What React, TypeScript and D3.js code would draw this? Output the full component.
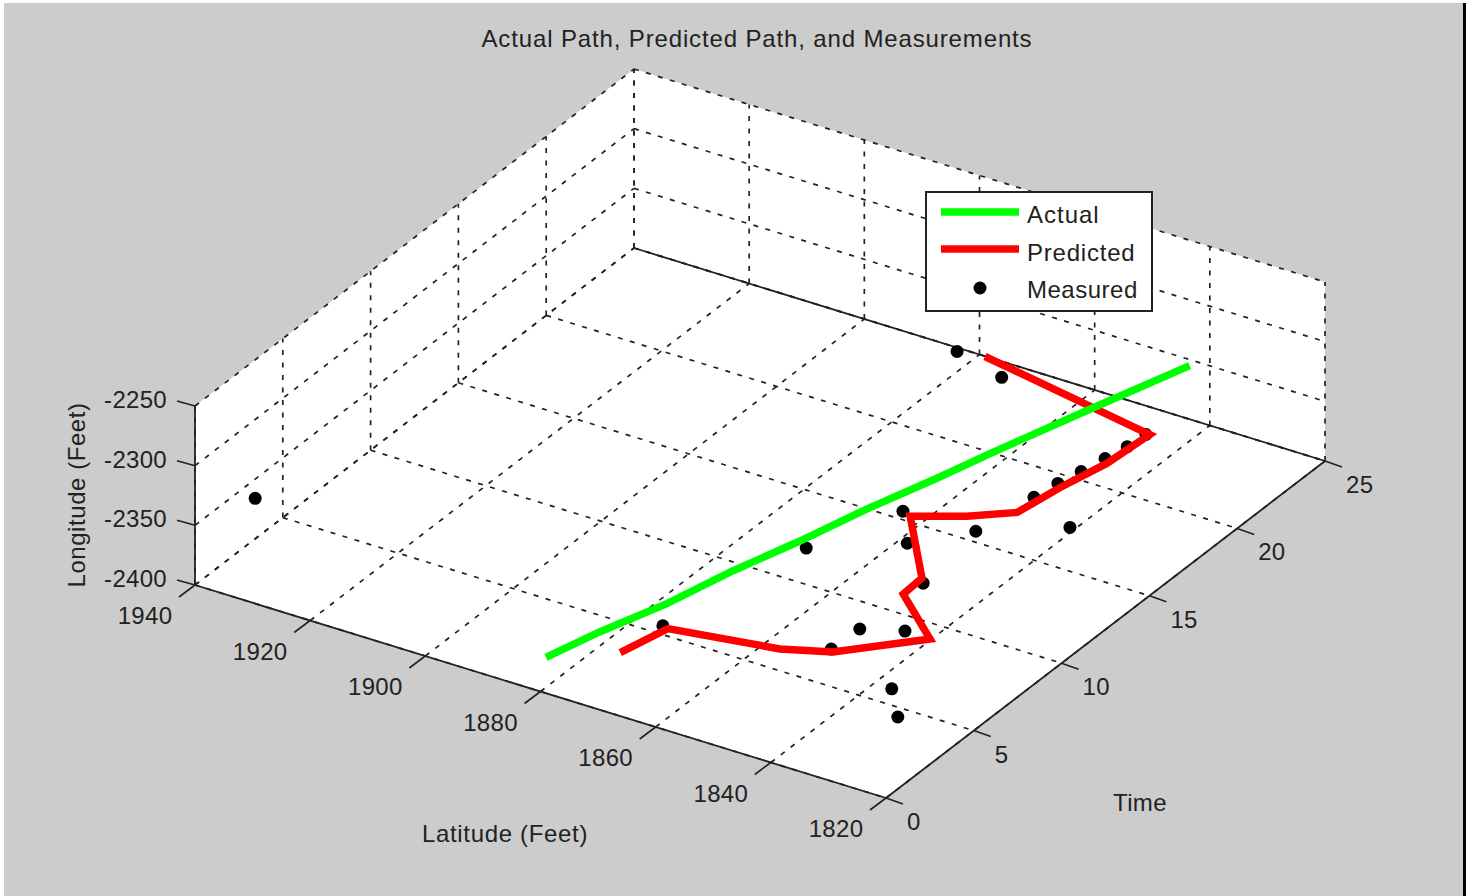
import React, { useEffect, useRef } from "react";
import * as d3 from "d3";

// tick labels
const latTicks = [1940, 1920, 1900, 1880, 1860, 1840, 1820];
const timeTicks = [0, 5, 10, 15, 20, 25];
const lonTicks = [-2400, -2350, -2300, -2250];

// actual path
const actualTime = [1, 3, 5, 7, 9, 11, 13, 15, 18, 21];
const actualLat = [1882.1, 1878.8, 1873.3, 1867.9, 1862.4, 1856.9, 1850.8, 1847.2, 1838.9, 1831.3];
const actualLon = [-2385.9, -2382.0, -2372.9, -2359.9, -2349.4, -2337.0, -2324.7, -2320.2, -2304.4, -2291.7];

// predicted path
const predTime = [1, 2, 3, 4, 5, 6, 7, 8, 9, 10, 11, 13, 16, 20];
const predLat = [1869.2, 1864.0, 1847.6, 1841.4, 1827.6, 1835.3, 1835.1, 1840.2, 1833.4, 1827.7, 1823.3, 1821.3, 1823.0, 1863.8];
const predLon = [-2362.7, -2346.1, -2350.0, -2354.7, -2334.6, -2319.7, -2317.3, -2284.3, -2285.4, -2285.1, -2268.9, -2268.4, -2280.6, -2321.1];

// measurements
const measTime = [1, 2, 3, 4, 5, 6, 7, 8, 9, 10, 11, 12, 13, 14, 15, 16, 17, 18, 19, 9, 3];
const measLat = [1821.0, 1825.1, 1867.9, 1841.7, 1839.8, 1835.0, 1834.9, 1840.7, 1844.5, 1834.9, 1821.6, 1830.9, 1829.8, 1828.8, 1827.7, 1826.9, 1826.7, 1854.8, 1865.6, 1861.3, 1938.7];
const measLon = [-2344.9, -2338.7, -2360.8, -2352.7, -2344.3, -2350.2, -2321.2, -2307.7, -2297.8, -2311.6, -2299.9, -2299.8, -2297.8, -2297.7, -2296.4, -2296.6, -2297.4, -2302.6, -2308.2, -2353.7, -2359.3];

const legendItems = ["Actual", "Predicted", "Measured"];
const legendSpacing = [1, 0.78, 0.5];

const INK = "#222";
const FONT = "'Liberation Sans', Arial, sans-serif";

const App = () => {
  const svgRef = useRef<SVGSVGElement>(null);

  useEffect(() => {
    const svg = d3.select(svgRef.current);
    svg.selectAll("*").remove();

    // fractions along each axis of the box
    const latScale = d3.scaleLinear().domain([1940, 1820]).range([0, 1]);
    const timeScale = d3.scaleLinear().domain([0, 25]).range([0, 1]);
    const lonScale = d3.scaleLinear().domain([-2400, -2250]).range([0, 1]);

    // the view is orthographic, so the projection is just three vectors
    const project = (lat: number, t: number, lon: number): [number, number] => {
      const a = latScale(lat);
      const b = timeScale(t);
      const c = lonScale(lon);
      return [195 + 691 * a + 439 * b, 585 + 213 * a - 337 * b - 179 * c];
    };
    const line = d3.line();

    const latMin = 1820, latMax = 1940, tMax = 25, lonMin = -2400, lonMax = -2250;

    svg.append("rect").attr("width", 1474).attr("height", 896).attr("fill", "#fff");
    svg.append("rect").attr("x", 4).attr("y", 3).attr("width", 1460).attr("height", 893).attr("fill", "#ccc");
    svg.append("rect").attr("x", 1463).attr("y", 3).attr("width", 3).attr("height", 893).attr("fill", "#000");

    // white panes
    const panes = [
      [project(latMax, 0, lonMin), project(latMin, 0, lonMin), project(latMin, tMax, lonMin), project(latMax, tMax, lonMin)],
      [project(latMax, 0, lonMin), project(latMax, 0, lonMax), project(latMax, tMax, lonMax), project(latMax, tMax, lonMin)],
      [project(latMax, tMax, lonMin), project(latMax, tMax, lonMax), project(latMin, tMax, lonMax), project(latMin, tMax, lonMin)],
    ];
    svg.append("g").selectAll("path").data(panes).join("path")
      .attr("d", (d) => line(d as [number, number][]) + "Z")
      .attr("fill", "#fff");

    // dashed grid
    const segments: [number, number][][] = [];
    latTicks.forEach((lat) => {
      segments.push([project(lat, 0, lonMin), project(lat, tMax, lonMin)]);
      segments.push([project(lat, tMax, lonMin), project(lat, tMax, lonMax)]);
    });
    timeTicks.forEach((t) => {
      segments.push([project(latMax, t, lonMin), project(latMin, t, lonMin)]);
      segments.push([project(latMax, t, lonMin), project(latMax, t, lonMax)]);
    });
    lonTicks.forEach((lon) => {
      segments.push([project(latMax, 0, lon), project(latMax, tMax, lon)]);
      segments.push([project(latMax, tMax, lon), project(latMin, tMax, lon)]);
    });
    svg.append("g").selectAll("path").data(segments).join("path")
      .attr("d", (d) => line(d))
      .attr("fill", "none")
      .attr("stroke", INK)
      .attr("stroke-width", 1.7)
      .attr("stroke-dasharray", "5 7.5");

    // solid axes
    const axes = [
      [project(latMax, 0, lonMin), project(latMax, 0, lonMax)],
      [project(latMax, 0, lonMin), project(latMin, 0, lonMin)],
      [project(latMin, 0, lonMin), project(latMin, tMax, lonMin)],
      [project(latMax, tMax, lonMin), project(latMin, tMax, lonMin)],
    ];
    svg.append("g").selectAll("path").data(axes).join("path")
      .attr("d", (d) => line(d as [number, number][]))
      .attr("fill", "none")
      .attr("stroke", INK)
      .attr("stroke-width", 1.8);

    const ticks = svg.append("g").attr("stroke", INK).attr("stroke-width", 1.6);
    const tick = (p: [number, number], dx: number, dy: number) =>
      ticks.append("line").attr("x1", p[0]).attr("y1", p[1]).attr("x2", p[0] + dx).attr("y2", p[1] + dy);

    const label = (x: number, y: number, text: string | number, anchor = "middle", spacing = 0.3) =>
      svg.append("text").attr("x", x).attr("y", y).attr("text-anchor", anchor)
        .attr("font-family", FONT).attr("font-size", 24).attr("letter-spacing", spacing)
        .attr("fill", INK).text(text);

    latTicks.forEach((lat) => {
      const p = project(lat, 0, lonMin);
      tick(p, -16, 12);
      label(p[0] - 50, p[1] + 39, lat);
    });
    timeTicks.forEach((t) => {
      const p = project(latMin, t, lonMin);
      tick(p, 17, 6);
      label(p[0] + 21, p[1] + 32, t, "start");
    });
    lonTicks.forEach((lon) => {
      const p = project(latMax, 0, lon);
      tick(p, -18, -5);
      label(p[0] - 28, p[1] + 2, lon, "end");
    });

    label(757, 47, "Actual Path, Predicted Path, and Measurements", "middle", 0.86);
    label(505, 842, "Latitude (Feet)", "middle", 0.67);
    label(1140, 811, "Time", "middle", 0.4);
    label(0, 0, "Longitude (Feet)", "middle", 0.56).attr("transform", "translate(85,495) rotate(-90)");

    // measured points, then the two paths on top
    svg.append("g").selectAll("circle").data(measTime).join("circle")
      .attr("cx", (_, i) => project(measLat[i], measTime[i], measLon[i])[0])
      .attr("cy", (_, i) => project(measLat[i], measTime[i], measLon[i])[1])
      .attr("r", 6.5)
      .attr("fill", "#000");

    const drawPath = (lat: number[], time: number[], lon: number[], color: string) =>
      svg.append("path")
        .attr("d", line(time.map((t, i) => project(lat[i], t, lon[i]))))
        .attr("fill", "none")
        .attr("stroke", color)
        .attr("stroke-width", 7.5);
    drawPath(predLat, predTime, predLon, "#ff0000");
    drawPath(actualLat, actualTime, actualLon, "#00ff00");

    // legend
    const legend = svg.append("g");
    legend.append("rect").attr("x", 926).attr("y", 192).attr("width", 226).attr("height", 119)
      .attr("fill", "#fff").attr("stroke", INK).attr("stroke-width", 2);
    legend.append("line").attr("x1", 941).attr("x2", 1019).attr("y1", 212).attr("y2", 212)
      .attr("stroke", "#00ff00").attr("stroke-width", 7.5);
    legend.append("line").attr("x1", 941).attr("x2", 1019).attr("y1", 249).attr("y2", 249)
      .attr("stroke", "#ff0000").attr("stroke-width", 7.5);
    legend.append("circle").attr("cx", 980).attr("cy", 288).attr("r", 6.5).attr("fill", "#000");
    legendItems.forEach((name, i) => {
      label(1027, 223 + i * 37.5, name, "start", legendSpacing[i]);
    });
  }, []);

  return (
    <svg
      ref={svgRef}
      width="1474"
      height="896"
      style={{ position: "absolute", left: 0, top: 0 }}
    ></svg>
  );
};

export default App;
